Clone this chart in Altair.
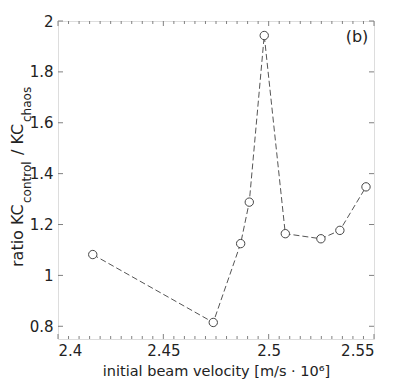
import altair as alt
import pandas as pd

# data
velocity = [2.4165, 2.4737, 2.4867, 2.4908, 2.4979, 2.5079, 2.5248, 2.5338, 2.5462]
ratio = [1.082, 0.815, 1.125, 1.288, 1.943, 1.164, 1.144, 1.177, 1.348]

x_major = [2.4, 2.45, 2.5, 2.55]
y_major = [0.8, 1.0, 1.2, 1.4, 1.6, 1.8, 2.0]
x_minor = [round(2.4 + 0.005 * i, 3) for i in range(1, 30) if i % 10 != 0]

W, H = 316, 318
FONT = "DejaVu Sans"
XDOM = [2.4, 2.55]
YDOM = [0.75, 2.0]

df = pd.DataFrame({"v": velocity, "r": ratio})
xs = alt.Scale(domain=XDOM, nice=False, zero=False)
ys = alt.Scale(domain=YDOM, nice=False, zero=False)

base = alt.Chart(df)

line = base.mark_line(color="#555555", strokeWidth=1, strokeDash=[6, 3]).encode(
    x=alt.X("v:Q", scale=xs,
            axis=alt.Axis(values=x_major, format=".2~f", ticks=False, grid=False, domain=False,
                          labelFontSize=15, labelPadding=4, labelFont=FONT, labelColor="#222222",
                          title="initial beam velocity [m/s · 10⁶]", titleFont=FONT,
                          titleFontSize=14.5, titleFontWeight="normal", titleColor="#222222",
                          titlePadding=6)),
    y=alt.Y("r:Q", scale=ys,
            axis=alt.Axis(values=y_major, format=".1~f", ticks=False, grid=False, domain=False,
                          labelFontSize=15, labelPadding=5, labelFont=FONT, labelColor="#222222",
                          title=None)),
)

pts = base.mark_point(shape="circle", filled=True, fill="white", stroke="#444444",
                      strokeWidth=1, size=70, opacity=1).encode(
    x=alt.X("v:Q", scale=xs), y=alt.Y("r:Q", scale=ys))

TICK = "#808080"
dminor = pd.DataFrame({"t": x_minor})
dxmaj = pd.DataFrame({"t": x_major})
dymaj = pd.DataFrame({"t": y_major})

xminor_b = alt.Chart(dminor).mark_rule(color=TICK, strokeWidth=1).encode(
    x=alt.X("t:Q", scale=xs), y=alt.value(H), y2=alt.value(H - 3))
xminor_t = alt.Chart(dminor).mark_rule(color=TICK, strokeWidth=1).encode(
    x=alt.X("t:Q", scale=xs), y=alt.value(0), y2=alt.value(3))
xmaj_b = alt.Chart(dxmaj).mark_rule(color=TICK, strokeWidth=1).encode(
    x=alt.X("t:Q", scale=xs), y=alt.value(H), y2=alt.value(H - 5))
xmaj_t = alt.Chart(dxmaj).mark_rule(color=TICK, strokeWidth=1).encode(
    x=alt.X("t:Q", scale=xs), y=alt.value(0), y2=alt.value(5))
ymaj_l = alt.Chart(dymaj).mark_rule(color=TICK, strokeWidth=1).encode(
    y=alt.Y("t:Q", scale=ys), x=alt.value(0), x2=alt.value(5))
ymaj_r = alt.Chart(dymaj).mark_rule(color=TICK, strokeWidth=1).encode(
    y=alt.Y("t:Q", scale=ys), x=alt.value(W), x2=alt.value(W - 5))

# y title pieces (with subscripts)
title_parts = [("ratio KC", 16, -35, 246), ("control", 12, -27, 182),
               ("/ KC", 16, -35, 134), ("chaos", 12, -27, 101)]
ytitle = []
for txt, fs, xp, yp in title_parts:
    ytitle.append(alt.Chart(pd.DataFrame({"s": [txt]})).mark_text(
        angle=270, align="left", baseline="alphabetic", font=FONT, fontSize=fs,
        color="#222222").encode(text="s:N", x=alt.value(xp), y=alt.value(yp)))

label_b = alt.Chart(pd.DataFrame({"s": ["(b)"]})).mark_text(
    align="center", baseline="middle", font=FONT, fontSize=16, color="#222222").encode(
    text="s:N", x=alt.value(299), y=alt.value(16))

chart = alt.layer(xminor_b, xminor_t, xmaj_b, xmaj_t, ymaj_l, ymaj_r, line, pts,
                  *ytitle, label_b).properties(
    width=W, height=H,
    autosize=alt.AutoSizeParams(type="none"),
    padding={"left": 50, "top": 13, "right": 27, "bottom": 45},
).configure_view(stroke="#808080", strokeWidth=1).configure(background="white")

chart.save("out.html", embed_options={"renderer": "svg", "actions": False})
